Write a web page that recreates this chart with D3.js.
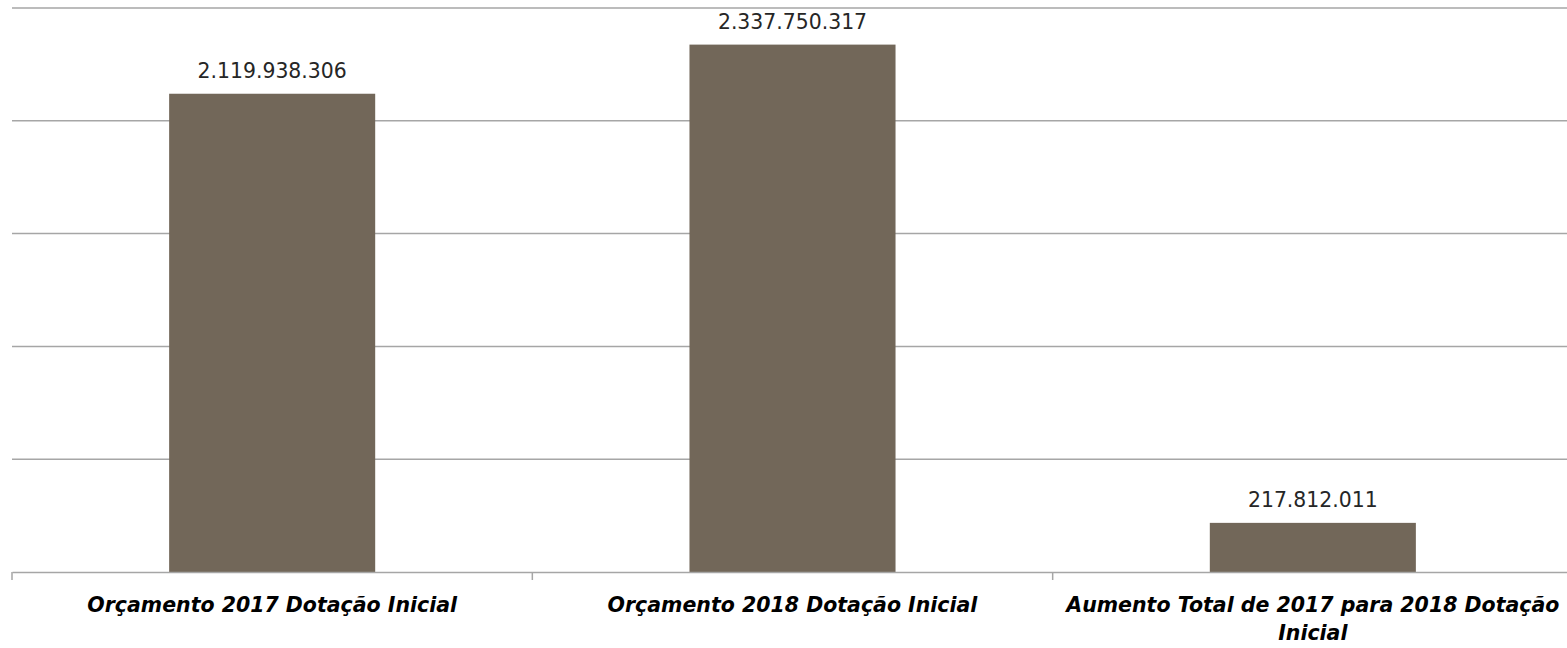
<!DOCTYPE html>
<html><head><meta charset="utf-8">
<script src="https://cdn.jsdelivr.net/npm/d3@7"></script>
<style>body{margin:0;background:#fff}svg{display:block}</style>
</head><body>
<svg id="c" width="1567" height="648"></svg>
<script>
const categories = ["Orçamento 2017 Dotação Inicial","Orçamento 2018 Dotação Inicial","Aumento Total de 2017 para 2018 Dotação Inicial"];
const values = [2119938306, 2337750317, 217812011];
const valueLabels = ["2.119.938.306","2.337.750.317","217.812.011"];
const yTicks = [0, 500000000, 1000000000, 1500000000, 2000000000, 2500000000];

const svg = d3.select("#c");
const m = {left:12, right:-6, top:8, bottom:76};
const W = 1567, H = 648;
const x = d3.scaleBand().domain(categories).range([m.left, W - m.right]).padding(0);
const y = d3.scaleLinear().domain([0, 2500000000]).range([H - m.bottom, m.top]);
const barFrac = 0.396;
const FONT = "'DejaVu Sans', sans-serif";

// gridlines
svg.append("g").selectAll("line").data(yTicks.slice(1)).join("line")
  .attr("x1", m.left).attr("x2", W).attr("y1", d=>y(d)).attr("y2", d=>y(d))
  .attr("stroke","#a6a6a6").attr("stroke-width",1.5);

// bars
svg.append("g").selectAll("rect").data(values).join("rect")
  .attr("x",(d,i)=>x(categories[i]) + x.bandwidth()*(1-barFrac)/2)
  .attr("width", x.bandwidth()*barFrac)
  .attr("y", d=>y(d)).attr("height", d=>y(0)-y(d))
  .attr("fill","#726759");

// axis
const ax = svg.append("g").attr("transform",`translate(0,${y(0)})`)
  .call(d3.axisBottom(x).tickSize(0).tickFormat(""));
ax.select(".domain").attr("stroke","#a6a6a6").attr("stroke-width",1.5);
svg.append("g").selectAll("line").data(categories).join("line")
  .attr("x1",d=>x(d)).attr("x2",d=>x(d)).attr("y1",y(0)).attr("y2",y(0)+8)
  .attr("stroke","#a6a6a6").attr("stroke-width",1.5);

// value labels
svg.append("g").selectAll("text").data(values).join("text")
  .attr("x",(d,i)=>x(categories[i]) + x.bandwidth()/2)
  .attr("y", d=>y(d) - 16)
  .attr("text-anchor","middle")
  .attr("font-family",FONT).attr("font-size",20.4)
  .attr("fill","#262626")
  .text((d,i)=>valueLabels[i]);

// category labels with wrapping
const cl = svg.append("g").selectAll("text").data(categories).join("text")
  .attr("x", d=>x(d) + x.bandwidth()/2)
  .attr("y", y(0) + 40)
  .attr("text-anchor","middle")
  .attr("font-family",FONT).attr("font-size",20.5)
  .attr("font-weight","bold").attr("font-style","italic")
  .attr("fill","#000");
cl.each(function(d){
  const t = d3.select(this);
  const words = d.split(" ");
  const maxW = x.bandwidth() - 20;
  let line = [];
  let ts = t.append("tspan").attr("x", x(d)+x.bandwidth()/2).attr("dy",0);
  for (const w of words) {
    line.push(w);
    ts.text(line.join(" "));
    if (ts.node().getComputedTextLength() > maxW && line.length > 1) {
      line.pop(); ts.text(line.join(" "));
      line = [w];
      ts = t.append("tspan").attr("x", x(d)+x.bandwidth()/2).attr("dy", 28).text(w);
    }
  }
});
</script>
</body></html>
